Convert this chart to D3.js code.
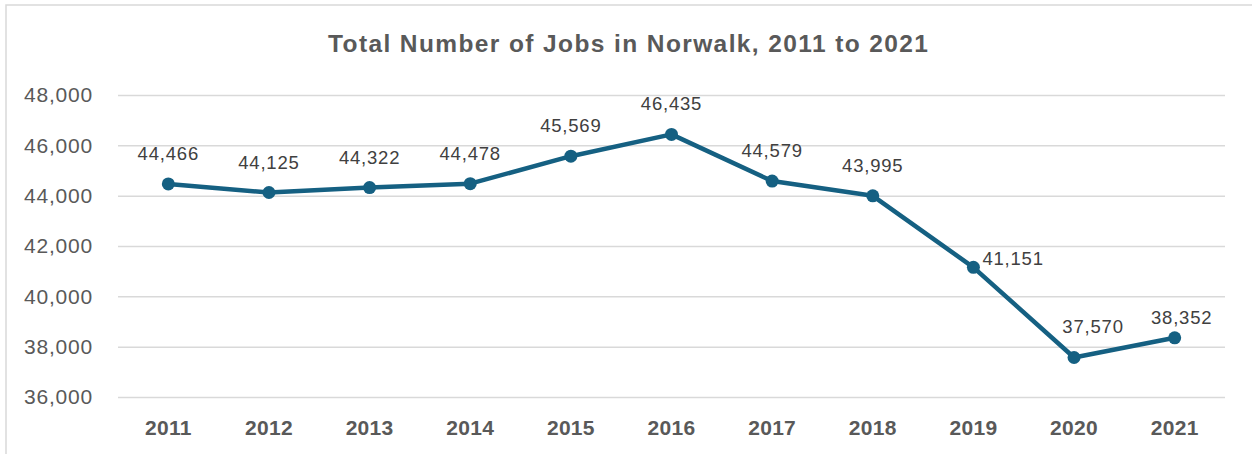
<!DOCTYPE html>
<html>
<head>
<meta charset="utf-8">
<script src="https://cdn.jsdelivr.net/npm/d3@7"></script>
<style>
  html, body { margin: 0; padding: 0; background: #ffffff; }
  svg { display: block; }
</style>
</head>
<body>
<svg id="chart" width="1252" height="454"></svg>
<script>
// ---- data ----
const years = ["2011","2012","2013","2014","2015","2016","2017","2018","2019","2020","2021"];
const jobs = [44466, 44125, 44322, 44478, 45569, 46435, 44579, 43995, 41151, 37570, 38352];
const yTicks = [36000, 38000, 40000, 42000, 44000, 46000, 48000];
const title = "Total Number of Jobs in Norwalk, 2011 to 2021";
// label placement per point (style, kept apart from data)
const labelPlace = ["above","above","above","above","above","above","above","above","right","above","above"];
const labelNudge = [[0,0],[0,0],[0,0],[0,0],[0,0],[0,0],[0,0],[0,0],[0,0],[19,0],[7,10]];

const W = 1252, H = 454;
const plot = { left: 118, right: 1225, top: 95, bottom: 397 };
const lineColor = "#156082";
const textGrey = "#595959";

const svg = d3.select("#chart");

// outer border
svg.append("rect")
  .attr("x", 6).attr("y", 5)
  .attr("width", W + 20).attr("height", H + 20)
  .attr("fill", "#ffffff")
  .attr("stroke", "#d9d9d9").attr("stroke-width", 1.5);

const x = d3.scaleBand().domain(years).range([plot.left, plot.right]).paddingInner(0).paddingOuter(0);
const y = d3.scaleLinear().domain([36000, 48000]).range([plot.bottom, plot.top]);
const cx = d => x(d) + x.bandwidth() / 2;

// title
svg.append("text")
  .attr("x", 628).attr("y", 52)
  .attr("text-anchor", "middle")
  .attr("font-family", "'Liberation Sans', Arial, sans-serif")
  .attr("font-weight", "bold")
  .attr("font-size", 24.5)
  .attr("textLength", 600)
  .attr("lengthAdjust", "spacing")
  .attr("fill", textGrey)
  .text(title);

// gridlines
const yAxis = d3.axisLeft(y).tickValues(yTicks)
  .tickSize(-(plot.right - plot.left))
  .tickPadding(25)
  .tickFormat(d3.format(","));
const gy = svg.append("g").attr("transform", `translate(${plot.left},0)`).call(yAxis);
gy.select(".domain").remove();
gy.selectAll(".tick line").attr("stroke", "#d9d9d9").attr("stroke-width", 1.5);
gy.selectAll(".tick text")
  .attr("font-family", "'Liberation Sans', Arial, sans-serif")
  .attr("font-size", 21)
  .attr("letter-spacing", 0.8)
  .attr("fill", textGrey);

// x axis labels
const xAxis = d3.axisBottom(x).tickSize(0).tickPadding(0);
const gx = svg.append("g").attr("transform", `translate(0,${plot.bottom})`).call(xAxis);
gx.select(".domain").remove();
gx.selectAll(".tick text")
  .attr("y", 38).attr("dy", 0)
  .attr("font-family", "'Liberation Sans', Arial, sans-serif")
  .attr("font-weight", "bold")
  .attr("font-size", 21)
  .attr("letter-spacing", 0.3)
  .attr("fill", textGrey);

// line
const pts = years.map((yr, i) => ({ yr, v: jobs[i], i }));
const line = d3.line().x(d => cx(d.yr)).y(d => y(d.v));
svg.append("path")
  .datum(pts)
  .attr("d", line)
  .attr("fill", "none")
  .attr("stroke", lineColor)
  .attr("stroke-width", 4.5)
  .attr("stroke-linejoin", "round")
  .attr("stroke-linecap", "round");

svg.selectAll("circle.pt")
  .data(pts).enter().append("circle")
  .attr("class", "pt")
  .attr("cx", d => cx(d.yr)).attr("cy", d => y(d.v))
  .attr("r", 6.5)
  .attr("fill", lineColor);

// data labels
svg.selectAll("text.lbl")
  .data(pts).enter().append("text")
  .attr("class", "lbl")
  .attr("x", d => cx(d.yr) + (labelPlace[d.i] === "right" ? 9 : 0) + labelNudge[d.i][0])
  .attr("y", d => y(d.v) + (labelPlace[d.i] === "right" ? -2 : -24) + labelNudge[d.i][1])
  .attr("text-anchor", d => labelPlace[d.i] === "right" ? "start" : "middle")
  .attr("font-family", "'Liberation Sans', Arial, sans-serif")
  .attr("font-size", 18.5)
  .attr("letter-spacing", 0.8)
  .attr("fill", "#404040")
  .text(d => d3.format(",")(d.v));
</script>
</body>
</html>
